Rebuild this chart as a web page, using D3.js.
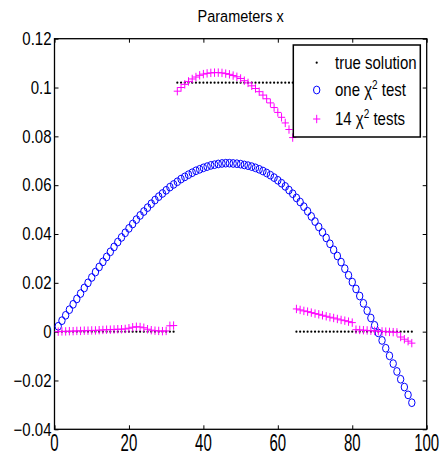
<!DOCTYPE html>
<html>
<head>
<meta charset="utf-8">
<script src="https://cdn.jsdelivr.net/npm/d3@7/dist/d3.min.js"></script>
<style>
  body { margin: 0; background: #fff; }
  text { font-family: "Liberation Sans", Arial, Helvetica, sans-serif; }
</style>
</head>
<body>
<div id="chart"></div>
<script>
// ---------------------------------------------
// ---------        Data             -----------
// ---------------------------------------------

// true solution, one value per parameter index 1..96
var trueSolution = [
  0, 0, 0, 0, 0, 0, 0, 0, 0, 0, 0, 0, 0, 0, 0, 0,
  0, 0, 0, 0, 0, 0, 0, 0, 0, 0, 0, 0, 0, 0, 0, 0,
  0.102, 0.102, 0.102, 0.102, 0.102, 0.102, 0.102, 0.102, 0.102, 0.102, 0.102, 0.102, 0.102, 0.102, 0.102, 0.102,
  0.102, 0.102, 0.102, 0.102, 0.102, 0.102, 0.102, 0.102, 0.102, 0.102, 0.102, 0.102, 0.102, 0.102, 0.102, 0.102,
  0, 0, 0, 0, 0, 0, 0, 0, 0, 0, 0, 0, 0, 0, 0, 0,
  0, 0, 0, 0, 0, 0, 0, 0, 0, 0, 0, 0, 0, 0, 0, 0
];

// estimate with a single chi^2 test
var oneTest = [
  0.0022, 0.0045, 0.0067, 0.0090, 0.0112, 0.0134, 0.0156, 0.0179, 0.0200, 0.0222,
  0.0244, 0.0265, 0.0286, 0.0306, 0.0327, 0.0347, 0.0367, 0.0386, 0.0405, 0.0423,
  0.0441, 0.0459, 0.0476, 0.0492, 0.0508, 0.0524, 0.0539, 0.0553, 0.0566, 0.0579,
  0.0592, 0.0603, 0.0614, 0.0625, 0.0634, 0.0643, 0.0651, 0.0659, 0.0665, 0.0671,
  0.0676, 0.0681, 0.0684, 0.0687, 0.0689, 0.0690, 0.0690, 0.0689, 0.0688, 0.0686,
  0.0683, 0.0680, 0.0676, 0.0671, 0.0665, 0.0658, 0.0650, 0.0641, 0.0631, 0.0620,
  0.0608, 0.0595, 0.0580, 0.0565, 0.0548, 0.0531, 0.0512, 0.0493, 0.0472, 0.0451,
  0.0429, 0.0407, 0.0384, 0.0360, 0.0335, 0.0310, 0.0285, 0.0258, 0.0231, 0.0203,
  0.0175, 0.0146, 0.0116, 0.0086, 0.0056, 0.0026, -0.0005, -0.0036, -0.0068, -0.0099,
  -0.0131, -0.0163, -0.0195, -0.0227, -0.0259, -0.0291
];

// estimate with 14 chi^2 tests
var fourteenTests = [
  0.0000, 0.0001, 0.0001, 0.0002, 0.0002, 0.0003, 0.0003, 0.0004, 0.0004, 0.0005,
  0.0005, 0.0006, 0.0007, 0.0008, 0.0008, 0.0009, 0.0010, 0.0010, 0.0011, 0.0014,
  0.0018, 0.0020, 0.0019, 0.0016, 0.0010, 0.0006, 0.0004, 0.0003, 0.0002, 0.0003,
  0.0024, 0.0025,
  0.0985, 0.1000, 0.1013, 0.1025, 0.1035, 0.1043, 0.1050, 0.1055, 0.1058, 0.1060,
  0.1061, 0.1061, 0.1060, 0.1057, 0.1054, 0.1049, 0.1044, 0.1037, 0.1028, 0.1019,
  0.1007, 0.0996, 0.0983, 0.0969, 0.0954, 0.0937, 0.0918, 0.0898, 0.0878, 0.0855,
  0.0828, 0.0795,
  0.0093, 0.0089, 0.0085, 0.0082, 0.0078, 0.0074, 0.0071, 0.0067, 0.0063, 0.0059,
  0.0056, 0.0052, 0.0048, 0.0045, 0.0041, 0.0037,
  0.0008, 0.0007, 0.0006, 0.0005, 0.0004, 0.0003, 0.0002, 0.0001, 0.0000, -0.0001,
  -0.0002, -0.0003,
  -0.0022, -0.0031, -0.0039, -0.0047
];

var xTicks = [0, 20, 40, 60, 80, 100];
var xTickLabels = ["0", "20", "40", "60", "80", "100"];
var yTicks = [-0.04, -0.02, 0, 0.02, 0.04, 0.06, 0.08, 0.1, 0.12];
var yTickLabels = ["\u22120.04", "\u22120.02", "0", "0.02", "0.04", "0.06", "0.08", "0.1", "0.12"];

var titleText = "Parameters x";
var legendNames = ["true solution", "one", "14"];

// ---------------------------------------------
// ---------    Basic Chart Layout      --------
// ---------------------------------------------

var width = 440, height = 458;
var margin = { left: 54.5, right: 13.3, top: 38.7, bottom: 28.7 };
var plotW = width - margin.left - margin.right;
var plotH = height - margin.top - margin.bottom;
var stretch = 1.2;   // text in the picture is a bit taller than wide

var svg = d3.select("#chart")
  .append("svg")
    .attr("width", width)
    .attr("height", height);

var g = svg.append("g")
  .attr("transform", "translate(" + margin.left + "," + margin.top + ")");

var x = d3.scaleLinear().domain([0, 100]).range([0, plotW]);
var y = d3.scaleLinear().domain([-0.04, 0.12]).range([plotH, 0]);

// ticks pointing inwards on all four sides
g.append("g")
  .attr("transform", "translate(0," + plotH + ")")
  .call(d3.axisBottom(x).tickValues(xTicks).tickSize(-4).tickFormat(""))
  .call(a => a.select(".domain").remove());
g.append("g")
  .call(d3.axisTop(x).tickValues(xTicks).tickSize(-4).tickFormat(""))
  .call(a => a.select(".domain").remove());
g.append("g")
  .call(d3.axisLeft(y).tickValues(yTicks).tickSize(-4).tickFormat(""))
  .call(a => a.select(".domain").remove());
g.append("g")
  .attr("transform", "translate(" + plotW + ",0)")
  .call(d3.axisRight(y).tickValues(yTicks).tickSize(-4).tickFormat(""))
  .call(a => a.select(".domain").remove());
g.selectAll(".tick line").attr("stroke", "#000").attr("stroke-width", 1);

// frame
g.append("rect")
  .attr("x", 0).attr("y", 0)
  .attr("width", plotW).attr("height", plotH)
  .attr("fill", "none")
  .attr("stroke", "#000")
  .attr("stroke-width", 1.3);

// tick labels
g.selectAll(".ylab")
  .data(yTicks)
  .join("text")
    .attr("class", "ylab")
    .attr("text-anchor", "end")
    .attr("font-size", 15)
    .attr("transform", d => "translate(-3," + (y(d) + 6.3) + ") scale(1," + stretch + ")")
    .text((d, i) => yTickLabels[i]);

g.selectAll(".xlab")
  .data(xTicks)
  .join("text")
    .attr("class", "xlab")
    .attr("text-anchor", "middle")
    .attr("font-size", 15)
    .attr("transform", d => "translate(" + x(d) + "," + (plotH + 22) + ") scale(1,1.6)")
    .text((d, i) => xTickLabels[i]);

// title
svg.append("text")
  .attr("text-anchor", "middle")
  .attr("font-size", 14.5)
  .attr("transform", "translate(" + (margin.left + plotW / 2) + ",22) scale(1," + stretch + ")")
  .text(titleText);

// ---------------------------------------------
// ---------       Chart Data           --------
// ---------------------------------------------

var plusPath = "M-3.6,0H3.6M0,-4.2V4.2";

g.append("g")
  .selectAll("circle")
  .data(trueSolution)
  .join("circle")
    .attr("cx", (d, i) => x(i + 1))
    .attr("cy", d => y(d))
    .attr("r", 1.1)
    .attr("fill", "#000");

g.append("g")
  .selectAll("ellipse")
  .data(oneTest)
  .join("ellipse")
    .attr("cx", (d, i) => x(i + 1))
    .attr("cy", d => y(d))
    .attr("rx", 3.2)
    .attr("ry", 3.9)
    .attr("fill", "none")
    .attr("stroke", "#0000ff")
    .attr("stroke-width", 1);

g.append("g")
  .selectAll("path")
  .data(fourteenTests)
  .join("path")
    .attr("transform", (d, i) => "translate(" + x(i + 1) + "," + y(d) + ")")
    .attr("d", plusPath)
    .attr("stroke", "#ff00ff")
    .attr("stroke-width", 1)
    .attr("fill", "none");

// ---------------------------------------------
// ---------         Legend             --------
// ---------------------------------------------

var legend = svg.append("g").attr("transform", "translate(293.3,45)");

legend.append("rect")
  .attr("width", 127)
  .attr("height", 92)
  .attr("fill", "#fff")
  .attr("stroke", "#000")
  .attr("stroke-width", 1.5);

legend.append("circle")
  .attr("cx", 23.4).attr("cy", 17.7)
  .attr("r", 1.1).attr("fill", "#000");
legend.append("ellipse")
  .attr("cx", 23.4).attr("cy", 45)
  .attr("rx", 3.2).attr("ry", 3.9)
  .attr("fill", "none").attr("stroke", "#0000ff");
legend.append("path")
  .attr("transform", "translate(23.4,74)")
  .attr("d", plusPath)
  .attr("stroke", "#ff00ff").attr("fill", "none");

var rowBase = [23.5, 51.3, 80];
legendNames.forEach(function (name, i) {
  var t = legend.append("text")
    .attr("font-size", 15)
    .attr("transform", "translate(41.7," + rowBase[i] + ") scale(1," + stretch + ")");
  if (i === 0) {
    t.text(name);
  } else {
    t.append("tspan").text(name + " \u03c7");
    t.append("tspan").attr("font-size", 10).attr("dy", -6).text("2");
    t.append("tspan").attr("dy", 6).text(i === 1 ? " test" : " tests");
  }
});
</script>
</body>
</html>
